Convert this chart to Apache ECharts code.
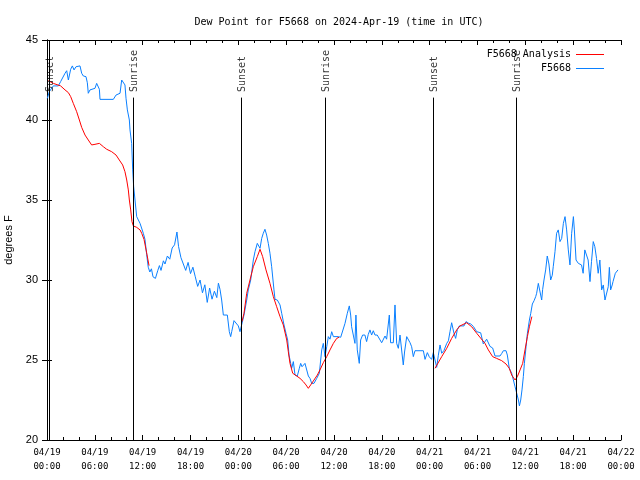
<!DOCTYPE html>
<html><head><meta charset="utf-8">
<script src="https://cdn.jsdelivr.net/npm/echarts@6/dist/echarts.min.js"></script>
<style>html,body{margin:0;padding:0;background:#fff}#c{width:640px;height:480px}</style>
</head><body><div id="c"></div>
<script>
// hours since 04/19 00:00 UTC
const blueT = [0.04,0.29,0.79,1.42,1.71,2.26,2.47,2.68,2.97,3.18,3.39,3.64,4.14,4.35,4.56,4.89,5.06,5.18,5.39,6.02,6.23,6.44,6.57,6.65,8.32,8.66,9.16,9.37,9.58,9.78,9.91,10.08,10.33,10.41,10.62,10.75,10.87,11.04,11.25,11.67,12.08,12.29,
12.5,12.7,12.9,13.1,13.3,13.6,13.9,14.1,14.3,14.6,14.8,15.1,15.4,15.7,16.0,16.3,16.5,16.8,17.1,17.4,17.7,18.0,18.3,18.6,18.9,19.2,19.5,19.8,20.1,20.4,20.7,21.0,21.3,21.5,
21.7,21.91,22.12,22.62,22.87,23.04,23.17,23.46,23.71,24.0,24.21,24.46,24.71,25.05,25.25,25.55,25.88,26.09,26.38,26.63,26.72,26.93,27.13,27.34,27.55,27.76,27.97,28.18,28.47,28.6,28.89,29.23,29.44,29.73,29.98,30.19,30.36,30.57,30.69,30.9,31.11,31.4,31.65,31.82,31.99,32.36,32.78,32.99,33.2,33.49,33.83,34.16,34.46,34.66,34.87,35.09,35.29,35.5,35.71,35.92,36.54,36.84,37.38,37.67,37.92,38.09,38.21,38.42,38.63,38.75,38.92,39.17,39.34,39.59,39.88,40.09,40.3,40.51,40.72,40.93,41.14,41.42,41.67,41.98,42.19,42.4,42.6,42.94,43.1,43.44,43.65,43.86,44.07,44.28,44.48,44.69,44.85,45.12,45.33,45.54,45.74,45.95,46.16,46.79,
47.21,47.42,47.71,47.95,48.25,48.46,48.67,48.88,49.09,49.3,49.51,49.8,50.14,50.35,50.55,50.76,50.97,51.05,51.26,51.47,51.72,52.31,52.56,52.85,53.15,53.48,53.9,54.4,54.73,54.94,55.15,55.36,55.57,55.9,56.2,56.82,57.03,57.24,57.58,57.74,57.99,58.29,58.5,58.71,58.92,59.13,59.26,59.42,59.58,59.75,59.88,60.09,60.26,60.51,60.68,60.88,61.1,61.3,61.42,61.63,61.84,62.05,62.17,62.34,62.55,62.75,62.96,63.18,63.38,63.5,63.72,63.92,64.13,64.35,64.56,64.77,64.98,65.18,65.39,65.6,65.81,66.03,66.15,66.36,66.65,67.05,67.25,67.46,67.67,67.88,68.11,68.3,68.52,68.72,68.93,69.14,69.35,69.57,69.78,69.99,70.2,70.4,70.54,70.7,70.9,71.0,71.1,71.29,71.62];
const blueV = [41.35,41.77,42.13,42.13,42.4,42.92,43.08,42.5,43.17,43.38,43.13,43.33,43.38,42.92,42.75,42.71,42.33,41.67,41.88,41.98,42.29,42.29,41.92,41.29,41.29,41.56,41.67,42.5,42.54,42.19,41.36,40.63,40.0,39.38,38.54,36.88,35.83,35.0,33.96,33.54,32.92,32.54,
31.6,30.8,30.5,30.7,30.2,30.1,30.6,30.9,30.6,31.2,31.0,31.5,31.3,32.0,32.2,33.0,32.1,31.4,31.0,30.6,31.1,30.4,30.8,30.2,29.6,30.0,29.2,29.7,28.6,29.5,28.8,29.3,28.9,29.8,
29.42,28.75,27.81,27.81,26.77,26.46,26.77,27.46,27.46,27.13,26.77,26.77,27.81,28.75,29.38,30.0,31.25,31.77,32.29,32.4,31.98,32.6,32.92,33.17,32.81,32.29,31.67,30.83,29.38,28.79,28.75,28.44,27.92,27.19,26.67,26.25,25.31,24.79,24.48,24.9,24.06,24.0,24.48,24.79,24.58,24.79,24.0,23.85,23.54,23.54,23.85,24.17,25.63,26.04,25.21,25.83,26.46,26.3,26.77,26.46,26.46,26.42,27.29,27.92,28.38,27.81,27.08,27.08,26.04,27.81,25.63,24.79,26.25,26.56,26.56,26.15,26.6,26.88,26.56,26.83,26.56,26.56,26.5,26.08,26.08,26.5,26.3,27.81,26.08,26.08,28.44,26.04,25.73,26.56,26.56,24.69,25.5,26.46,26.4,26.08,25.83,25.21,25.58,25.58,
25.58,25.04,25.46,25.2,25.04,25.46,25.5,24.54,25.3,25.94,25.42,25.6,26.04,26.2,26.77,27.33,27.33,26.67,26.35,26.9,27.13,27.13,27.4,27.3,27.25,27.1,26.77,26.7,26.0,25.94,26.3,26.2,25.85,25.75,25.25,25.25,25.4,25.58,25.58,25.31,24.48,24.17,23.75,23.33,22.92,22.5,22.13,22.5,23.13,23.96,24.79,25.83,26.67,27.5,27.92,28.5,28.71,28.96,29.17,29.79,29.9,28.75,29.4,30.0,30.63,31.5,31.0,30.0,30.3,30.83,31.77,32.92,33.13,32.4,32.6,33.54,33.96,33.13,31.88,30.94,32.92,33.96,33.13,31.25,31.04,30.94,30.42,31.88,31.88,31.25,29.9,31.15,32.4,32.08,31.35,30.42,31.25,29.38,29.69,28.75,28.75,29.58,30.79,29.38,29.69,29.9,30.0,30.42,30.63];

// analysis series; null marks a gap
const redT = [0.17,0.79,1.71,2.26,2.68,2.97,3.3,3.72,4.06,4.35,4.77,5.18,5.6,6.02,6.57,7.07,7.49,8.11,8.66,9.07,9.49,9.78,10.0,10.2,10.33,10.5,10.66,10.83,11.25,11.67,11.88,12.17,12.5,12.8,
13.0,
24.46,24.71,25.05,25.46,25.88,26.38,26.72,27.05,27.47,27.97,28.39,28.81,29.23,29.64,30.07,30.27,30.48,30.82,31.32,31.74,32.15,32.49,32.78,33.07,33.49,33.91,34.24,34.66,35.09,35.5,35.92,36.34,36.63,
37.0,
48.67,49.51,50.14,50.76,51.39,51.81,52.31,52.64,53.27,53.9,54.94,55.36,55.9,56.4,57.03,57.58,57.99,58.29,58.71,59.0,59.34,59.67,59.96,60.26,60.51,60.82];
const redV = [42.46,42.29,42.13,41.88,41.71,41.46,41.04,40.52,40.0,39.54,39.06,38.75,38.44,38.48,38.54,38.33,38.17,38.02,37.81,37.5,37.19,36.77,36.25,35.63,35.0,34.38,33.65,33.38,33.29,33.13,32.92,32.54,31.7,30.9,
null,
27.4,27.92,29.17,30.0,30.83,31.46,31.92,31.46,30.63,29.79,28.96,28.33,27.71,27.19,26.25,25.52,24.79,24.17,24.0,23.85,23.65,23.44,23.23,23.44,23.75,24.06,24.38,24.83,25.21,25.63,26.04,26.35,26.42,
null,
24.48,25.21,25.73,26.35,26.88,27.13,27.25,27.33,27.08,26.67,26.04,25.63,25.21,25.1,24.96,24.75,24.48,24.06,23.75,23.96,24.38,24.79,25.63,26.46,27.08,27.71];

const eventNames = ['Sunset','Sunrise','Sunset','Sunrise','Sunset','Sunrise'];
const eventHours = [0.29,10.83,24.33,34.91,48.46,58.87];
const eventLineTop = [45,41.4,41.4,41.4,41.4,41.4];
const eventLabelY = 41.75;

const xTickLabels = ['04/19\n00:00','04/19\n06:00','04/19\n12:00','04/19\n18:00','04/20\n00:00','04/20\n06:00','04/20\n12:00','04/20\n18:00','04/21\n00:00','04/21\n06:00','04/21\n12:00','04/21\n18:00','04/22\n00:00'];

const mono = 'DejaVu Sans Mono';
const blueData = blueT.map((t,i)=>[t,blueV[i]]);
const redData = redT.map((t,i)=>[t,redV[i]]);

const chart = echarts.init(document.getElementById('c'), null, {renderer:'canvas'});
const axisLine = {show:true, lineStyle:{color:'#000', width:1}};
chart.setOption({
  animation:false,
  backgroundColor:'#fff',
  title:{text:'Dew Point for F5668 on 2024-Apr-19 (time in UTC)', left:334, textAlign:'center', top:12,
    textStyle:{fontFamily:mono, fontSize:10, fontWeight:'normal', color:'#000'}},
  legend:{orient:'vertical', right:31, top:44, align:'right', itemWidth:28, itemHeight:1, itemGap:3,
    icon:'rect',
    data:['F5668 Analysis','F5668'],
    textStyle:{fontFamily:mono, fontSize:10, color:'#000', lineHeight:11}},
  grid:{left:47, right:19, top:40, bottom:40, containLabel:false, outerBoundsMode:'none'},
  xAxis:[
    {type:'value', min:0, max:72, interval:6, position:'bottom',
     axisLine:axisLine, splitLine:{show:false},
     axisTick:{inside:true, length:5, lineStyle:{color:'#000'}},
     minorTick:{show:true, splitNumber:3, length:3, lineStyle:{color:'#000'}},
     axisLabel:{margin:6, fontFamily:mono, fontSize:9, color:'#000', lineHeight:14,
       formatter:(v)=>xTickLabels[Math.round(v/6)]}},
    {type:'value', min:0, max:72, interval:6, position:'top',
     axisLine:axisLine, splitLine:{show:false},
     axisTick:{inside:true, length:5, lineStyle:{color:'#000'}},
     minorTick:{show:true, splitNumber:3, length:3, lineStyle:{color:'#000'}},
     axisLabel:{show:false}}
  ],
  yAxis:[
    {type:'value', min:20, max:45, interval:5, position:'left',
     name:'degrees F', nameLocation:'middle', nameGap:33,
     nameTextStyle:{fontFamily:'Liberation Sans', fontSize:11, color:'#000'},
     axisLine:axisLine, splitLine:{show:false},
     axisTick:{inside:true, length:5, lineStyle:{color:'#000'}},
     axisLabel:{margin:9, fontFamily:'Liberation Sans', fontSize:11, color:'#000'}},
    {type:'value', min:20, max:45, interval:5, position:'right',
     axisLine:axisLine, splitLine:{show:false},
     axisTick:{inside:true, length:5, lineStyle:{color:'#000'}},
     axisLabel:{show:false}}
  ],
  series:[
    {name:'F5668', type:'line', data:blueData, showSymbol:false, symbol:'none', z:2,
     color:'#0a80ff', lineStyle:{color:'#0a80ff', width:1},
     markLine:{silent:true, symbol:['none','none'], label:{show:false},
       lineStyle:{color:'#000', width:1, type:'solid'},
       data:eventHours.map((h,i)=>[{coord:[h,20]},{coord:[h,eventLineTop[i]]}])}},
    {name:'F5668 Analysis', type:'line', data:redData, showSymbol:false, symbol:'none', connectNulls:false, z:3,
     color:'#ff0000', lineStyle:{color:'#ff0000', width:1}},
    {name:'events', type:'scatter', symbolSize:0, silent:true, z:4,
     data:eventHours.map(h=>[h+0.12, eventLabelY]),
     label:{show:true, position:'inside', rotate:90, align:'left', verticalAlign:'middle',
       fontFamily:mono, fontSize:10, color:'#000',
       formatter:(p)=>eventNames[p.dataIndex]}}
  ]
});
</script></body></html>
